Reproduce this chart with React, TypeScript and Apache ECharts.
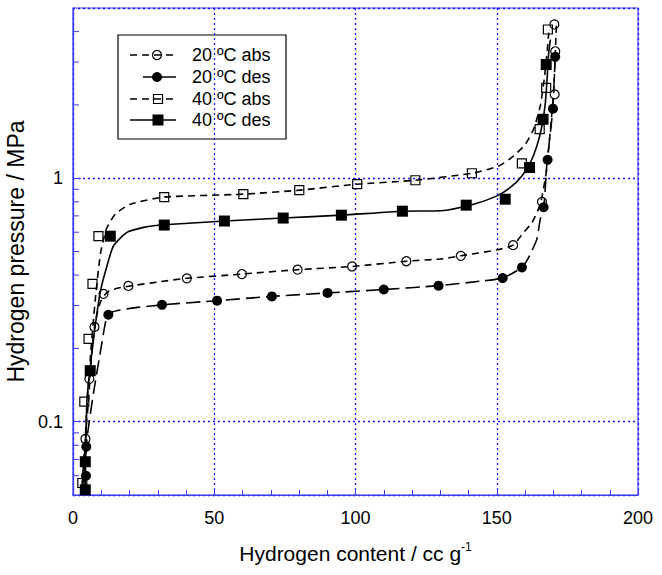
import React, { useEffect, useRef } from 'react';
import * as echarts from 'echarts';

// ---------- data ----------
const xTickValues = [0, 50, 100, 150, 200];
const yLabelValues = [0.1, 1];
const yMinorTicks = [0.06, 0.07, 0.08, 0.09, 0.2, 0.3, 0.4, 0.5, 0.6, 0.7, 0.8, 0.9, 2, 3, 4];

const seriesNames = ['20 ºC abs', '20 ºC des', '40 ºC abs', '40 ºC des'];

// measured points
const abs20Points: [number, number][] = [
  [4.4, 0.085], [5.8, 0.15], [7.6, 0.245], [10.8, 0.335], [19.6, 0.361], [40.3, 0.388],
  [59.8, 0.404], [79.5, 0.421], [98.8, 0.434], [118.0, 0.456], [137.3, 0.48], [155.8, 0.531],
  [166.0, 0.8], [170.5, 2.21], [170.7, 3.32], [170.4, 4.28],
];
const des20Points: [number, number][] = [
  [4.6, 0.06], [4.7, 0.079], [12.5, 0.275], [31.5, 0.302], [51.0, 0.314], [70.4, 0.327],
  [90.1, 0.338], [110.0, 0.349], [129.4, 0.362], [152.1, 0.389], [158.9, 0.43], [166.6, 0.76],
  [168.0, 1.19], [169.9, 1.93], [170.7, 3.15],
];
const abs40Points: [number, number][] = [
  [3.3, 0.056], [4.0, 0.121], [5.5, 0.219], [6.9, 0.368], [9.0, 0.578], [32.3, 0.836],
  [60.3, 0.86], [80.1, 0.893], [100.6, 0.945], [121.2, 0.981], [141.2, 1.048], [158.9, 1.15],
  [165.2, 1.59], [167.5, 2.35], [168.1, 4.08],
];
const des40Points: [number, number][] = [
  [4.35, 0.0525], [4.35, 0.0685], [6.1, 0.162], [13.2, 0.578], [32.3, 0.642], [53.6, 0.667],
  [74.4, 0.686], [95.0, 0.705], [116.6, 0.732], [139.2, 0.775], [153.0, 0.82], [161.6, 1.106],
  [166.4, 1.746], [167.5, 2.93],
];

// fitted curves
const abs20Curve: [number, number][] = [
  [3.19, 0.0548], [4.35, 0.0853], [5.52, 0.124], [6.73, 0.199], [7.89, 0.256], [9.66, 0.309],
  [12.04, 0.34], [15.6, 0.353], [19.7, 0.36], [30.9, 0.376], [40.3, 0.388], [59.8, 0.404],
  [79.5, 0.421], [98.8, 0.434], [118.0, 0.456], [130.1, 0.466], [137.3, 0.48], [150.1, 0.508],
  [155.8, 0.531], [159.5, 0.599], [162.5, 0.658], [165.4, 0.782], [167.5, 1.055], [169.0, 1.587],
  [170.1, 2.245], [170.7, 3.17], [171.1, 4.24],
];
const des20Curve: [number, number][] = [
  [3.65, 0.0507], [4.96, 0.0853], [7.29, 0.132], [10.27, 0.212], [11.8, 0.264], [13.9, 0.282],
  [20.3, 0.292], [31.5, 0.302], [51.0, 0.314], [70.4, 0.327], [90.1, 0.338], [110.0, 0.349],
  [129.4, 0.362], [145.3, 0.379], [152.1, 0.389], [158.9, 0.43], [161.3, 0.473], [164.2, 0.562],
  [165.4, 0.679], [166.6, 0.751], [167.8, 1.16], [169.6, 1.8], [170.4, 2.63], [170.7, 3.17],
];
const abs40Curve: [number, number][] = [
  [3.5, 0.0507], [4.7, 0.103], [6.1, 0.181], [7.9, 0.319], [9.7, 0.488], [11.8, 0.618],
  [15.0, 0.712], [20.3, 0.782], [32.3, 0.836], [60.3, 0.86], [80.1, 0.893], [100.6, 0.945],
  [121.2, 0.981], [141.2, 1.048], [150.7, 1.123], [156.0, 1.234], [160.1, 1.378], [163.0, 1.587],
  [165.4, 1.98], [166.8, 2.55], [167.8, 3.27], [168.4, 3.96],
];
const des40Curve: [number, number][] = [
  [4.35, 0.0507], [4.96, 0.124], [7.29, 0.219], [9.66, 0.341], [12.04, 0.437], [14.37, 0.528],
  [19.1, 0.599], [25.0, 0.628], [30.9, 0.642], [53.6, 0.667], [74.4, 0.686], [95.0, 0.705],
  [116.6, 0.732], [130.1, 0.735], [141.8, 0.782], [150.1, 0.846], [154.8, 0.916], [158.9, 1.022],
  [161.9, 1.16], [164.2, 1.356], [166.0, 1.638], [167.2, 2.04], [167.8, 2.546], [168.4, 3.27],
  [169.0, 3.71],
];

// ---------- styles ----------
const AXIS_BLUE = '#3c3cf2';
const GRID_BLUE = '#1414ff';
const FONT = 'Liberation Sans, Arial, sans-serif';
const shortDash = [7, 5];
const longDash = [14, 6];

export default function App() {
  const ref = useRef<HTMLDivElement>(null);
  useEffect(() => {
    const chart = echarts.init(ref.current!, null, { renderer: 'svg' });

    const curve = (name: string, data: [number, number][], dash: any) => ({
      name,
      type: 'line',
      data,
      showSymbol: false,
      symbol: 'none',
      smooth: 0.2,
      lineStyle: { color: '#000', width: 1.6, type: dash },
      z: 2,
      silent: true,
    });
    const marks = (name: string, data: [number, number][], symbol: string, size: number, filled: boolean) => ({
      name,
      type: 'scatter',
      data,
      symbol,
      symbolSize: size,
      itemStyle: {
        color: filled ? '#000' : 'rgba(0,0,0,0)',
        borderColor: '#000',
        borderWidth: filled ? 0 : 1.2,
        opacity: 1,
      },
      z: 3,
      silent: true,
    });

    const legendRows = [
      { y: 55, dash: shortDash, x1: 130, symbol: 'circle', filled: false },
      { y: 77, dash: 'solid', x1: 143, symbol: 'circle', filled: true },
      { y: 99, dash: shortDash, x1: 130, symbol: 'rect', filled: false },
      { y: 120, dash: 'solid', x1: 130, symbol: 'rect', filled: true },
    ];
    const legendChildren: any[] = [
      {
        type: 'rect',
        shape: { x: 118, y: 35, width: 168, height: 104 },
        style: { fill: '#fff', stroke: '#000', lineWidth: 1.2 },
      },
    ];
    legendRows.forEach((r, i) => {
      legendChildren.push({
        type: 'line',
        shape: { x1: r.x1, y1: r.y, x2: 176, y2: r.y },
        style: { stroke: '#000', lineWidth: 1.6, lineDash: r.dash === 'solid' ? null : r.dash },
      });
      if (r.symbol === 'circle') {
        legendChildren.push({
          type: 'circle',
          shape: { cx: 157, cy: r.y, r: r.filled ? 5 : 4.5 },
          style: r.filled ? { fill: '#000' } : { fill: 'rgba(0,0,0,0)', stroke: '#000', lineWidth: 1.2 },
        });
      } else {
        const s = r.filled ? 11 : 9;
        legendChildren.push({
          type: 'rect',
          shape: { x: 158 - s / 2, y: r.y - s / 2, width: s, height: s },
          style: r.filled ? { fill: '#000' } : { fill: 'rgba(0,0,0,0)', stroke: '#000', lineWidth: 1.2 },
        });
      }
      legendChildren.push({
        type: 'text',
        x: 192,
        y: r.y,
        style: {
          text: seriesNames[i],
          fill: '#000',
          font: `18px ${FONT}`,
          verticalAlign: 'middle',
        },
      });
    });

    chart.setOption({
      animation: false,
      backgroundColor: '#fff',
      grid: {
        left: 73, top: 8, width: 565, height: 487,
        outerBoundsMode: 'none',
        containLabel: false,
        show: true, borderColor: AXIS_BLUE, borderWidth: 1.2, backgroundColor: 'transparent',
      },
      xAxis: {
        type: 'value',
        min: xTickValues[0],
        max: xTickValues[xTickValues.length - 1],
        interval: 50,
        name: 'Hydrogen content / cc g{sup|-1}',
        nameLocation: 'middle',
        nameGap: 46,
        nameTextStyle: {
          fontFamily: FONT, fontSize: 21, color: '#000',
          rich: { sup: { fontFamily: FONT, fontSize: 12, color: '#000', verticalAlign: 'top', padding: [0, 0, 12, 0] } },
        },
        axisLine: { show: true, lineStyle: { color: AXIS_BLUE, width: 1.2 } },
        axisTick: { show: true, inside: true, length: 7, lineStyle: { color: AXIS_BLUE } },
        minorTick: { show: true, splitNumber: 5, length: 5, lineStyle: { color: AXIS_BLUE } },
        axisLabel: { color: '#000', fontFamily: FONT, fontSize: 18, margin: 14 },
        splitLine: { show: true, lineStyle: { color: GRID_BLUE, type: [2, 3], width: 1.3 } },
      },
      yAxis: {
        type: 'log',
        logBase: 10,
        min: 0.05,
        max: 5,
        name: 'Hydrogen pressure / MPa',
        nameLocation: 'middle',
        nameGap: 34,
        nameRotate: 90,
        nameTextStyle: { fontFamily: FONT, fontSize: 23, color: '#000' },
        axisLine: { show: true, lineStyle: { color: AXIS_BLUE, width: 1.2 } },
        axisTick: { show: true, inside: true, length: 8, lineStyle: { color: AXIS_BLUE } },
        axisLabel: {
          color: '#000', fontFamily: FONT, fontSize: 18, margin: 10,
          showMinLabel: false, showMaxLabel: false,
          formatter: (v: number) => {
            const hit = yLabelValues.find((t) => Math.abs(v - t) < 1e-6 * t);
            return hit !== undefined ? String(hit) : '';
          },
        },
        splitLine: { show: true, lineStyle: { color: GRID_BLUE, type: [2, 3], width: 1.3 } },
      },
      series: [
        {
          type: 'custom',
          coordinateSystem: 'cartesian2d',
          data: yMinorTicks.map((v) => [0, v]),
          silent: true,
          z: 1,
          renderItem: (_p: any, api: any) => {
            const pt = api.coord([0, api.value(1)]);
            return {
              type: 'line',
              shape: { x1: pt[0], y1: pt[1], x2: pt[0] + 6, y2: pt[1] },
              style: { stroke: AXIS_BLUE, lineWidth: 1 },
            };
          },
        },
        curve(seriesNames[0], abs20Curve, shortDash),
        curve(seriesNames[1], des20Curve, longDash),
        curve(seriesNames[2], abs40Curve, shortDash),
        curve(seriesNames[3], des40Curve, 'solid'),
        marks(seriesNames[0], abs20Points, 'circle', 9, false),
        marks(seriesNames[1], des20Points, 'circle', 10, true),
        marks(seriesNames[2], abs40Points, 'rect', 9, false),
        marks(seriesNames[3], des40Points, 'rect', 11, true),
      ],
      graphic: [{ type: 'group', z: 100, children: legendChildren }],
    });
    return () => chart.dispose();
  }, []);
  return <div ref={ref} style={{ position: 'fixed', left: 0, top: 0, width: 662, height: 575 }} />;
}
